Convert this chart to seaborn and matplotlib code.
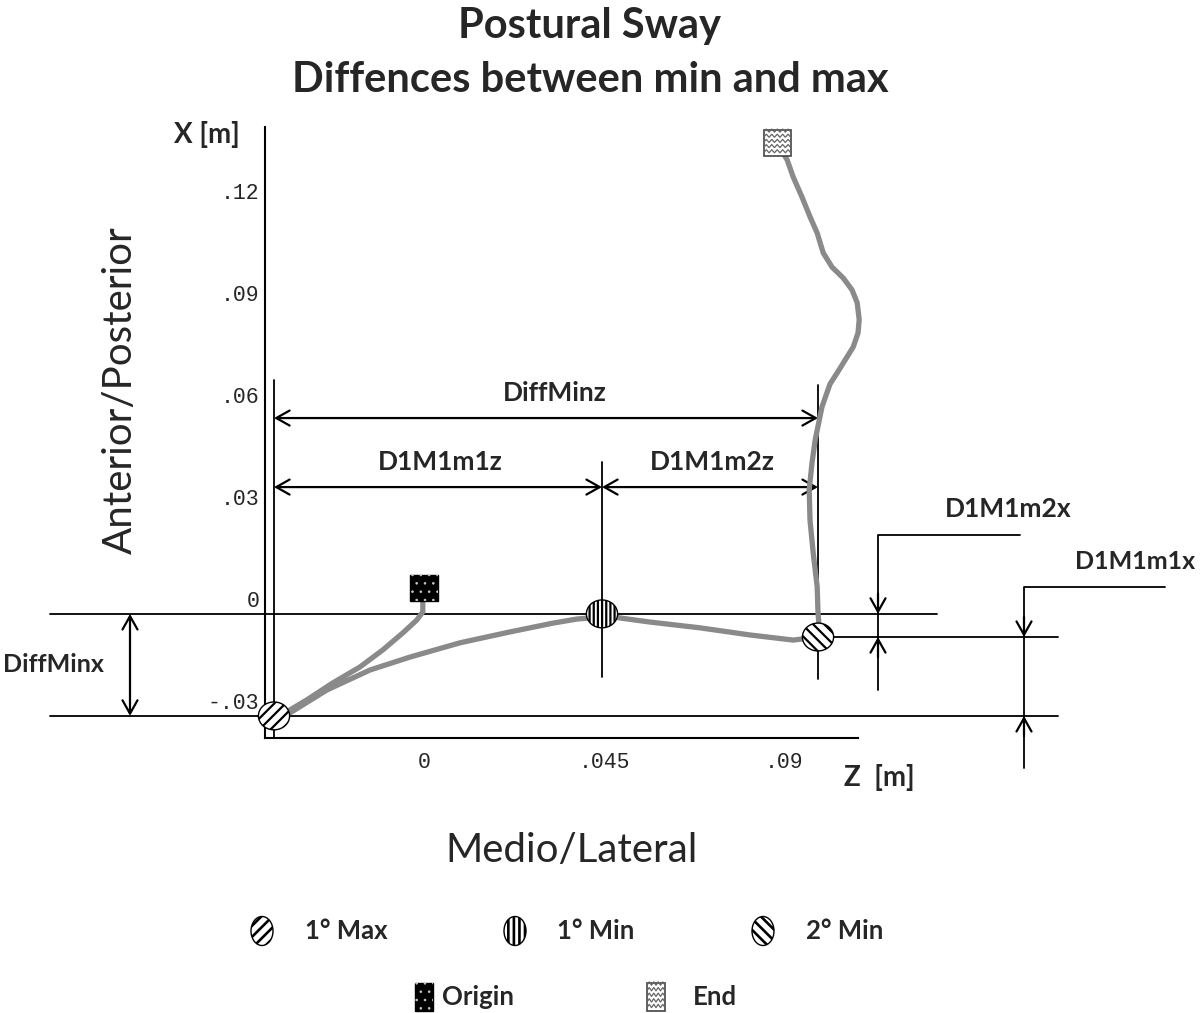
import numpy as np
import pandas as pd
import matplotlib.pyplot as plt
from matplotlib.patches import Ellipse, Rectangle
import seaborn as sns

# ======================
# data, z = medio/lateral, x = anterior/posterior [m]
# path: origin -> 1° max -> 1° min -> 2° min -> end
# ======================
path_z = [-0.0003, -0.0003, -0.0018, -0.0053, -0.0103, -0.016, -0.0228, -0.0293, -0.0343, -0.0375,
          -0.0335, -0.0243, -0.0135, -0.0035, 0.009, 0.0215, 0.0323, 0.0383, 0.0415, 0.0445,
          0.049, 0.0565, 0.069, 0.0815, 0.0923, 0.0985,
          0.0988, 0.0985, 0.0983, 0.0973, 0.0965, 0.0963, 0.097, 0.0978, 0.0995, 0.1015,
          0.1033, 0.1053, 0.1073, 0.1085, 0.1088, 0.1083, 0.107, 0.1048, 0.102, 0.0998,
          0.0983, 0.0965, 0.0945, 0.0923, 0.0908, 0.0883]
path_x = [-0.0009, -0.0038, -0.0062, -0.01, -0.015, -0.02, -0.0247, -0.0297, -0.0332, -0.0344,
          -0.0335, -0.0268, -0.0209, -0.0171, -0.0129, -0.0097, -0.0071, -0.0059, -0.0056, -0.0044,
          -0.0056, -0.0068, -0.0085, -0.0106, -0.0121, -0.0112,
          -0.0082, -0.0041, 0.0035, 0.0135, 0.0232, 0.0321, 0.04, 0.0468, 0.0565, 0.0632,
          0.0665, 0.0703, 0.0741, 0.0782, 0.0821, 0.0871, 0.0909, 0.0944, 0.0976, 0.1018,
          0.1076, 0.1124, 0.1182, 0.1241, 0.1291, 0.1341]

point_names = ['1° Max', '1° Min', '2° Min']
point_z = [-0.0375, 0.0445, 0.0985]
point_x = [-0.0344, -0.0044, -0.0112]
point_hatch = ['///', '||||', '\\\\\\']

origin_z, origin_x = 0.0, 0.0032
end_z, end_x = 0.0883, 0.1341

z_ticks = [0, 0.045, 0.09]
z_ticklabels = ['0', '.045', '.09']
x_ticks = [-0.03, 0, 0.03, 0.06, 0.09, 0.12]
x_ticklabels = ['-.03', '0', '.03', '.06', '.09', '.12']

# ======================
# style
# ======================
sns.set_theme(style='white')
plt.rcParams['font.family'] = ['Lato', 'DejaVu Sans']
plt.rcParams['hatch.linewidth'] = 1.6
GRAY = '#8a8a8a'
W = 1200
H = 1013

fig = plt.figure(figsize=(12, 10.13), dpi=100)
ax = fig.add_axes([265 / W, 1 - 738 / H, (858 - 265) / W, (738 - 127) / H])

df = pd.DataFrame({'z': path_z, 'x': path_x})
sns.lineplot(data=df, x='z', y='x', sort=False, estimator=None, color=GRAY,
             lw=3.8, ax=ax, zorder=4, solid_capstyle='round', solid_joinstyle='round')
ax.lines[-1].set_clip_on(False)

ax.set_xlim(-0.03975, 0.1085)
ax.set_ylim(-0.0409, 0.1388)
ax.set_xticks(z_ticks, z_ticklabels)
ax.set_yticks(x_ticks, x_ticklabels)
ax.tick_params(length=0, labelsize=15.5)
ax.tick_params(axis='x', pad=10)
ax.tick_params(axis='y', pad=4)
for lab in ax.get_xticklabels() + ax.get_yticklabels():
    lab.set_family('Liberation Mono')
ax.set_xlabel('')
ax.set_ylabel('')
for s in ['top', 'right']:
    ax.spines[s].set_visible(False)
for s in ['left', 'bottom']:
    ax.spines[s].set_color('black')
    ax.spines[s].set_linewidth(1.5)

# markers on the path
mw, mh = 0.0078, 0.0082
for z, x, h in zip(point_z, point_x, point_hatch):
    ax.add_patch(Ellipse((z, x), mw, mh, facecolor='white', edgecolor='black',
                         hatch=h, lw=1.0, zorder=6, clip_on=False))

sw, sh = 0.0068, 0.0076


def zigzag(axis, cz, cx, w, h, rows=5, teeth=5, **kw):
    for r in range(rows):
        yy = cx - h / 2 + h * (r + 0.6) / rows
        zs = np.linspace(cz - w / 2, cz + w / 2, teeth * 2 + 1)
        xs = yy + np.where(np.arange(len(zs)) % 2 == 0, 0.0, h * 0.12)
        axis.plot(zs, xs, **kw)


with plt.rc_context({'hatch.linewidth': 0.6}):
    ax.add_patch(Rectangle((origin_z - sw / 2, origin_x - sh / 2), sw, sh,
                           facecolor='black', edgecolor='black', lw=1, zorder=6))
    ax.add_patch(Rectangle((origin_z - sw / 2, origin_x - sh / 2), sw, sh,
                           facecolor='none', edgecolor='#cccccc', hatch='..', lw=0, zorder=7))

ax.add_patch(Rectangle((end_z - sw / 2, end_x - sh / 2), sw, sh,
                       facecolor='white', edgecolor='#444444', lw=1.2, zorder=6, clip_on=False))
zigzag(ax, end_z, end_x, sw, sh, color='#666666', lw=0.9, zorder=7, clip_on=False)

# ======================
# dimension lines
# ======================
LK = dict(color='black', lw=1.3, clip_on=False, zorder=3)
ARR = dict(color='black', lw=1.6, shrinkA=0, shrinkB=0, mutation_scale=12)


def dbl(p0, p1):
    ax.annotate('', xy=p1, xytext=p0, annotation_clip=False,
                arrowprops=dict(arrowstyle='<->,head_length=0.8,head_width=0.45', **ARR))


def one(p_from, p_tip):
    ax.annotate('', xy=p_tip, xytext=p_from, annotation_clip=False,
                arrowprops=dict(arrowstyle='->,head_length=0.8,head_width=0.45', **ARR))


z_max1, z_min1, z_min2 = point_z
x_max1, x_min1, x_min2 = point_x

# extension lines
ax.plot([z_max1, z_max1], [-0.0409, 0.0644], **LK)
ax.plot([z_min1, z_min1], [0.0403, -0.0229], **LK)
ax.plot([z_min2, z_min2], [0.0629, -0.0235], **LK)
ax.plot([-0.0935, 0.1283], [x_min1, x_min1], **LK)
ax.plot([-0.0935, 0.1585], [x_max1, x_max1], **LK)
ax.plot([z_min2, 0.1585], [x_min2, x_min2], **LK)

# horizontal dimensions
dbl((z_max1, 0.0532), (z_min2, 0.0532))
dbl((z_max1, 0.0329), (z_min1, 0.0329))
dbl((z_min1, 0.0329), (z_min2, 0.0329))
LBL = dict(fontsize=19, fontweight='bold', ha='center', va='center')
ax.text(0.0328, 0.0606, 'DiffMinz', **LBL)
ax.text(0.004, 0.0403, 'D1M1m1z', **LBL)
ax.text(0.072, 0.0403, 'D1M1m2z', **LBL)

# vertical dimensions
dbl((-0.0735, x_min1), (-0.0735, x_max1))
ax.text(-0.1053, -0.0194, 'DiffMinx', fontsize=18, fontweight='bold',
        ha='left', va='center')

zc = 0.1135
ax.plot([zc, zc, 0.149], [-0.0268, 0.0188, 0.0188], **LK)
one((zc, x_min1 + 0.006), (zc, x_min1))
one((zc, x_min2 - 0.006), (zc, x_min2))
ax.text(0.146, 0.0265, 'D1M1m2x', **LBL)

zc = 0.15
ax.plot([zc, zc, 0.1853], [-0.0497, 0.0035, 0.0035], **LK)
one((zc, x_min2 + 0.006), (zc, x_min2))
one((zc, x_max1 - 0.006), (zc, x_max1))
ax.text(0.1928, 0.0109, 'D1M1m1x', fontsize=18, fontweight='bold',
        ha='right', va='center')

# ======================
# titles and axis names
# ======================
fig.text(590 / W, 1 - 26 / H, 'Postural Sway', fontsize=30, fontweight='bold',
         ha='center', va='center')
fig.text(590 / W, 1 - 80 / H, 'Diffences between min and max', fontsize=30,
         fontweight='bold', ha='center', va='center')
fig.text(207 / W, 1 - 135 / H, 'X [m]', fontsize=20, fontweight='bold',
         ha='center', va='center')
fig.text(879 / W, 1 - 777 / H, 'Z  [m]', fontsize=20, fontweight='bold',
         ha='center', va='center')
fig.text(120 / W, 1 - 390 / H, 'Anterior/Posterior', fontsize=29, rotation=90,
         ha='center', va='center')
fig.text(572 / W, 1 - 850 / H, 'Medio/Lateral', fontsize=29, ha='center', va='center')

# ======================
# legend
# ======================
lax = fig.add_axes([0, 0, 1, 1], zorder=-1)
lax.set_xlim(0, W)
lax.set_ylim(H, 0)
lax.axis('off')

leg_x = [262, 515, 763]
leg_tx = [305, 557, 806]
with plt.rc_context({'hatch.linewidth': 1.9}):
    for name, h, lx, tx in zip(point_names, ['///', '|||', '\\\\\\'], leg_x, leg_tx):
        lax.add_patch(Ellipse((lx, 931), 22, 29, facecolor='white', edgecolor='black',
                              hatch=h, lw=1.0))
        lax.text(tx, 931, name, fontsize=18.5, fontweight='bold', va='center', ha='left')

with plt.rc_context({'hatch.linewidth': 0.6}):
    lax.add_patch(Rectangle((415, 983), 18, 28, facecolor='black', edgecolor='black', lw=1))
    lax.add_patch(Rectangle((415, 983), 18, 28, facecolor='none', edgecolor='#cccccc',
                            hatch='..', lw=0))
lax.text(442, 997, 'Origin', fontsize=18.5, fontweight='bold', va='center', ha='left')
lax.add_patch(Rectangle((647, 983), 18, 28, facecolor='white', edgecolor='#444444', lw=1.2))
zigzag(lax, 656, 997, 18, -28, rows=5, teeth=4, color='#666666', lw=0.9)
lax.text(693, 997, 'End', fontsize=18.5, fontweight='bold', va='center', ha='left')

plt.savefig('out.png', dpi=100)
